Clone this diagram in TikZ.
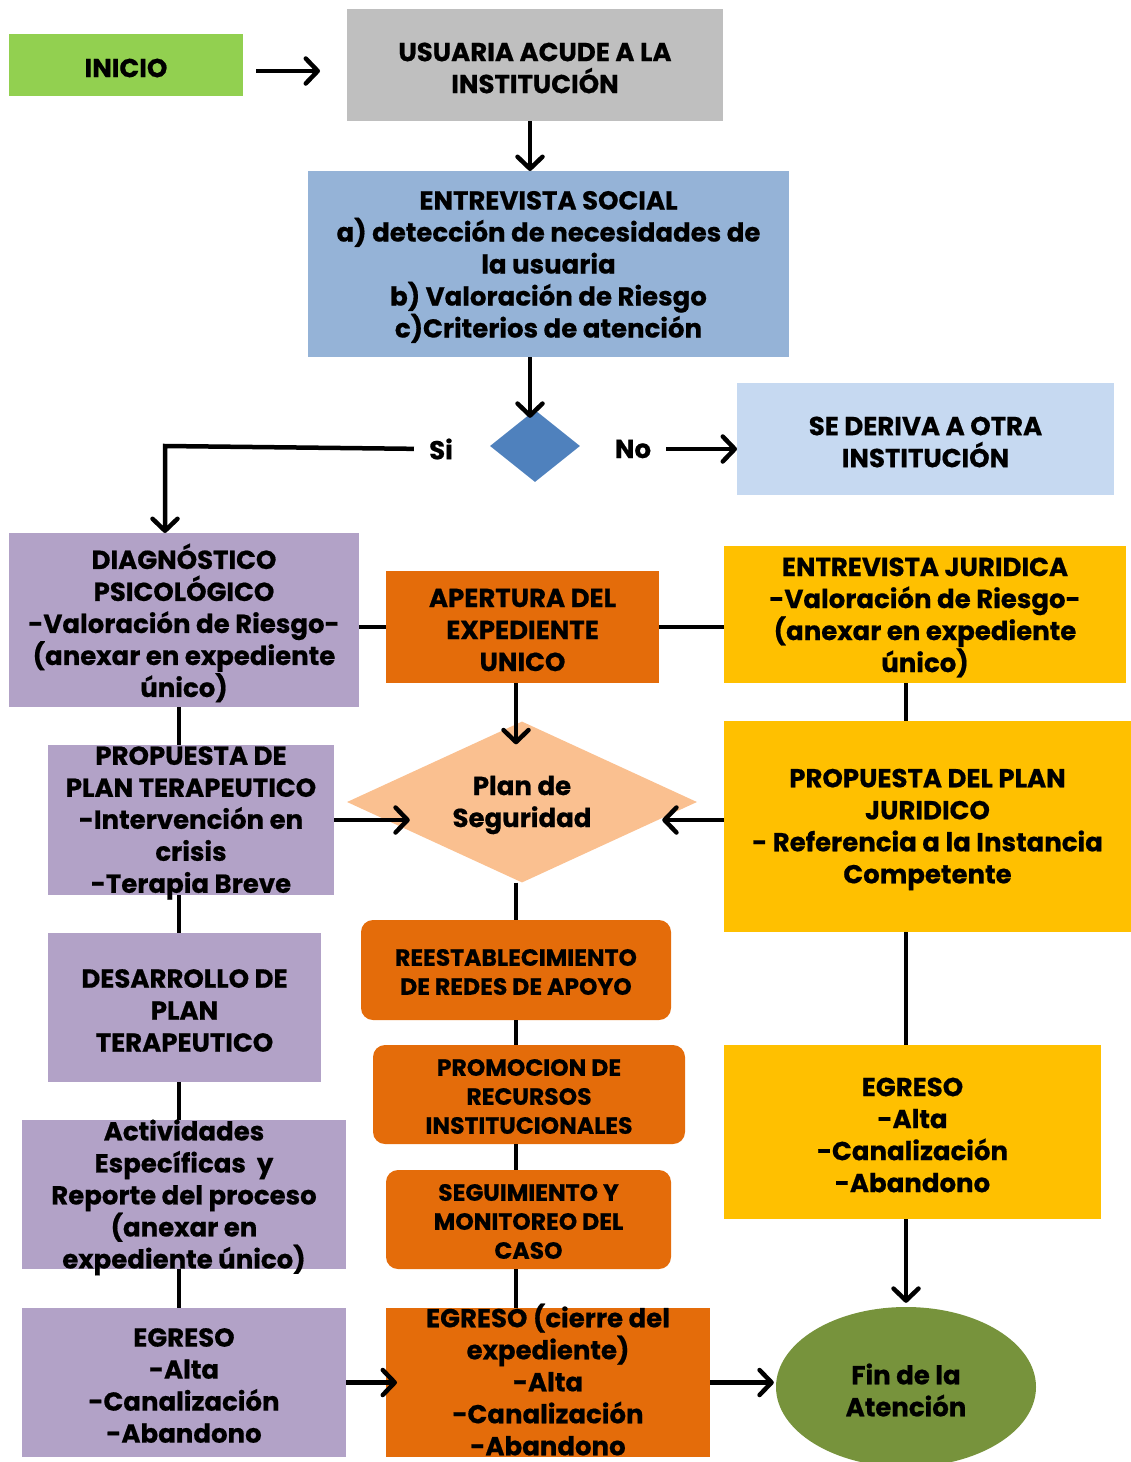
\documentclass[tikz,border=0pt]{standalone}
\usepackage{fontspec}
\setmainfont{Poppins}[BoldFeatures={FakeBold=0.6}]
\usetikzlibrary{shapes.geometric,arrows.meta}

\definecolor{cgreen}{HTML}{92D050}
\definecolor{cgray}{HTML}{BFBFBF}
\definecolor{cblue}{HTML}{95B3D7}
\definecolor{cdiam}{HTML}{4F81BD}
\definecolor{clight}{HTML}{C6D9F1}
\definecolor{cpurple}{HTML}{B2A2C7}
\definecolor{corange}{HTML}{E46C0A}
\definecolor{cyellow}{HTML}{FFC000}
\definecolor{cpeach}{HTML}{FAC090}
\definecolor{colive}{HTML}{77933C}

\tikzset{
  box/.style={draw=none, rectangle, inner sep=0pt, outer sep=0pt},
  rbox/.style={box, rounded corners=12pt},
  txt/.style={align=center, inner sep=0pt, yshift=-3pt, font=\fontsize{26}{32}\selectfont\bfseries},
  stxt/.style={align=center, inner sep=0pt, yshift=-2pt, font=\fontsize{23.5}{29}\selectfont\bfseries},
  conn/.style={line width=4.5pt, black},
  arr/.style={conn, -{Straight Barb[length=12pt, width=25pt, line width=4.5pt, round]}},
}

\newcommand{\bx}[7]{% name, style, colour, x1, y1, x2, y2
  \node[#2, fill=#3, minimum width={#6-#4}, minimum height={#7-#5}] (#1) at ({(#4+#6)/2},{(#5+#7)/2}) {};
}

\begin{document}
\begin{tikzpicture}[x=1pt, y=-1pt]
\useasboundingbox (0,0) rectangle (1131,1462);

% connector columns and rows
\coordinate (tcol) at (530,0);
\coordinate (lcol) at (179,0);
\coordinate (ccol) at (516,0);
\coordinate (rcol) at (906,0);
\coordinate (toprow) at (0,71);

% boxes
\bx{inicio}{box}{cgreen}{9}{34}{243}{96}
\bx{usuaria}{box}{cgray}{347}{9}{723}{121}
\bx{esocial}{box}{cblue}{308}{171}{789}{357}
\bx{deriva}{box}{clight}{737}{383}{1114}{495}
\bx{diag}{box}{cpurple}{9}{533}{359}{707}
\bx{apert}{box}{corange}{386}{571}{659}{683}
\bx{ejur}{box}{cyellow}{724}{546}{1126}{683}
\bx{pter}{box}{cpurple}{48}{745}{334}{895}
\bx{pjur}{box}{cyellow}{724}{721}{1131}{932}
\bx{desa}{box}{cpurple}{48}{933}{321}{1082}
\bx{reest}{rbox}{corange}{361}{920}{671}{1020}
\bx{promo}{rbox}{corange}{373}{1045}{685}{1144}
\bx{segui}{rbox}{corange}{386}{1170}{671}{1269}
\bx{activ}{box}{cpurple}{22}{1120}{346}{1269}
\bx{egry}{box}{cyellow}{724}{1045}{1101}{1219}
\bx{egrp}{box}{cpurple}{22}{1308}{346}{1457}
\bx{egro}{box}{corange}{386}{1308}{710}{1457}

\node[diamond, fill=cdiam, inner sep=0pt, minimum width=90pt, minimum height=72pt] (dec) at (535,446) {};
\node[diamond, fill=cpeach, inner sep=0pt, minimum width=350pt, minimum height=161pt] (plan) at (522,802) {};
\node[ellipse, fill=colive, inner sep=0pt, minimum width=260pt, minimum height=160pt] (fin) at (906,1387) {};

% texts
\node[txt] at (inicio) {INICIO};
\node[txt] at (usuaria) {USUARIA ACUDE A LA\\INSTITUCIÓN};
\node[txt] at (esocial) {ENTREVISTA SOCIAL\\a) detección de necesidades de\\la usuaria\\b) Valoración de Riesgo\\c)Criterios de atención};
\node[txt] at (deriva) {SE DERIVA A OTRA\\INSTITUCIÓN};
\node[txt] at (diag) {DIAGNÓSTICO\\PSICOLÓGICO\\-Valoración de Riesgo-\\(anexar en expediente\\único)};
\node[txt] at (apert) {APERTURA DEL\\EXPEDIENTE\\UNICO};
\node[txt] at (ejur) {ENTREVISTA JURIDICA\\-Valoración de Riesgo-\\(anexar en expediente\\único)};
\node[txt] at (pter) {PROPUESTA DE\\PLAN TERAPEUTICO\\-Intervención en\\crisis\\-Terapia Breve};
\node[txt] at (plan) {Plan de\\Seguridad};
\node[txt] at (pjur) {PROPUESTA DEL PLAN\\JURIDICO\\- Referencia a la Instancia\\Competente};
\node[txt] at (desa) {DESARROLLO DE\\PLAN\\TERAPEUTICO};
\node[stxt] at (reest) {REESTABLECIMIENTO\\DE REDES DE APOYO};
\node[stxt] at (promo) {PROMOCION DE\\RECURSOS\\INSTITUCIONALES};
\node[stxt] at (segui) {SEGUIMIENTO Y\\MONITOREO DEL\\CASO};
\node[txt] at (activ) {Actividades\\Específicas~ y\\Reporte del proceso\\(anexar en\\expediente único)};
\node[txt] at (egry) {EGRESO\\-Alta\\-Canalización\\-Abandono};
\node[txt] at (egrp) {EGRESO\\-Alta\\-Canalización\\-Abandono};
\node[txt, yshift=6pt] at (egro) {EGRESO (cierre del\\expediente)\\-Alta\\-Canalización\\-Abandono};
\node[txt] at (fin) {Fin de la\\Atención};
\node[txt] (si) at (441,446) {Si};
\node[txt] (no) at (633,446) {No};

% connectors
\draw[arr, shorten <=13pt, shorten >=27pt] (inicio.east |- toprow) -- (usuaria.west |- toprow);
\draw[arr] (usuaria.south -| tcol) -- (esocial.north -| tcol);
\draw[arr, shorten >=-8pt] (esocial.south -| tcol) -- (dec.north -| tcol);
\coordinate (sibend) at (165,446);
\draw[arr, shorten <=15pt] (si.west) -- (sibend) -- (sibend |- diag.north);
\draw[arr, shorten <=15pt] (no.east) -- (no.east -| deriva.west);

\draw[conn] (diag.east |- apert.center) -- (apert.west);
\draw[conn] (apert.east) -- (apert.east -| ejur.west);
\draw[arr, shorten >=-23pt] (apert.south -| ccol) -- (plan.north -| ccol);
\draw[arr, shorten >=-63pt] (pter.east) -- (pter.east -| plan.west);
\draw[arr, shorten >=-35pt] (pjur.west |- pter.east) -- (pter.east -| plan.east);

\draw[conn] (diag.south -| lcol) -- (pter.north -| lcol);
\draw[conn] (pter.south -| lcol) -- (desa.north -| lcol);
\draw[conn] (desa.south -| lcol) -- (activ.north -| lcol);
\draw[conn] (activ.south -| lcol) -- (egrp.north -| lcol);

\draw[conn] (plan.south -| ccol) -- (reest.north -| ccol);
\draw[conn] (reest.south -| ccol) -- (promo.north -| ccol);
\draw[conn] (promo.south -| ccol) -- (segui.north -| ccol);
\draw[conn] (segui.south -| ccol) -- (egro.north -| ccol);

\draw[conn] (ejur.south -| rcol) -- (pjur.north -| rcol);
\draw[conn] (pjur.south -| rcol) -- (egry.north -| rcol);
\draw[arr, shorten >=4pt] (egry.south -| rcol) -- (fin.north);

\draw[arr, shorten >=-11pt] (egrp.east) -- (egrp.east -| egro.west);
\draw[arr, shorten >=2pt] (egro.east) -- (egro.east -| fin.west);
\end{tikzpicture}
\end{document}
